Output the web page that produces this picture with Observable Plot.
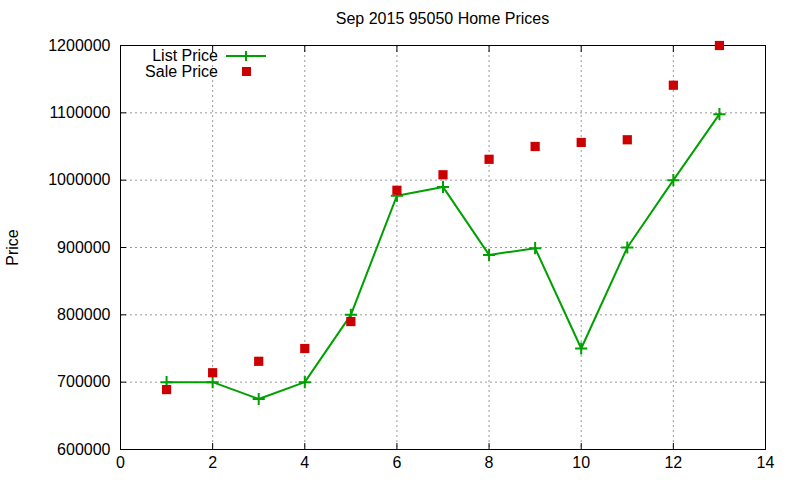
<!DOCTYPE html>
<html>
<head>
<meta charset="utf-8">
<script src="https://cdn.jsdelivr.net/npm/d3@7"></script>
<script src="https://cdn.jsdelivr.net/npm/@observablehq/plot@0.6"></script>
<style>
  html, body { margin: 0; padding: 0; background: #fff; }
  #wrap { position: relative; width: 800px; height: 480px; font-family: "Liberation Sans", Arial, sans-serif; }
  #title { position: absolute; left: 120px; width: 645px; top: 10px; text-align: center; font-size: 16px; color: #000; }
  #legend { position: absolute; left: 120px; top: 45px; }
</style>
</head>
<body>
<div id="wrap">
  <div id="chart"></div>
  <div id="title">Sep 2015 95050 Home Prices</div>
  <svg id="legend" width="160" height="40"></svg>
</div>
<script>
const months = [1, 2, 3, 4, 5, 6, 7, 8, 9, 10, 11, 12, 13];
const listPrice = [700000, 700000, 675000, 700000, 800000, 977000, 990000, 889000, 899000, 750000, 900000, 1000000, 1098000];
const salePrice = [689000, 714000, 731000, 750000, 790000, 985000, 1008000, 1031000, 1050000, 1056000, 1060000, 1141000, 1200000];
const xTicks = [0, 2, 4, 6, 8, 10, 12, 14];
const yTicks = [600000, 700000, 800000, 900000, 1000000, 1100000, 1200000];
const seriesNames = ["List Price", "Sale Price"];

const listData = months.map((m, i) => ({ x: m, y: listPrice[i] }));
const saleData = months.map((m, i) => ({ x: m, y: salePrice[i] }));

const green = "#00a000";
const red = "#cc0000";
const fmt = d => String(d);

const chart = Plot.plot({
  width: 800,
  height: 480,
  marginLeft: 120,
  marginRight: 35,
  marginTop: 45,
  marginBottom: 31,
  style: { fontFamily: "Liberation Sans, Arial, sans-serif", fontSize: "16px", color: "#000", background: "#fff" },
  x: { domain: [0, 14], ticks: xTicks },
  y: { domain: [600000, 1200000], ticks: yTicks },
  marks: [
    Plot.gridX(xTicks.slice(1, -1), { stroke: "#999", strokeOpacity: 1, strokeDasharray: "2,3" }),
    Plot.gridY(yTicks.slice(1, -1), { stroke: "#999", strokeOpacity: 1, strokeDasharray: "2,3" }),
    Plot.axisX(xTicks, { anchor: "bottom", tickSize: 0, tickPadding: 7, tickFormat: fmt, label: null, fontSize: 16 }),
    Plot.axisX(xTicks, { anchor: "bottom", tickSize: -6, tickFormat: () => "", label: null, stroke: "#000" }),
    Plot.axisX(xTicks, { anchor: "top", tickSize: -6, tickFormat: () => "", label: null, stroke: "#000" }),
    Plot.axisY(yTicks, { anchor: "left", tickSize: 0, tickPadding: 10, tickFormat: fmt, label: "Price", labelAnchor: "center", labelArrow: "none", labelOffset: 114, fontSize: 16 }),
    Plot.axisY(yTicks, { anchor: "left", tickSize: -6, tickFormat: () => "", label: null, stroke: "#000" }),
    Plot.axisY(yTicks, { anchor: "right", tickSize: -6, tickFormat: () => "", label: null, stroke: "#000" }),
    Plot.frame({ stroke: "#000", strokeWidth: 1 }),
    Plot.line(listData, { x: "x", y: "y", stroke: green, strokeWidth: 2 }),
    Plot.dot(listData, { x: "x", y: "y", symbol: "plus", stroke: green, strokeWidth: 2, r: 4 }),
    Plot.dot(saleData, { x: "x", y: "y", symbol: "square", fill: red, stroke: "none", r: 5.2 })
  ]
});
document.getElementById("chart").appendChild(chart);

// legend
const lg = d3.select("#legend");
lg.append("text").attr("x", 98).attr("y", 16).attr("text-anchor", "end")
  .attr("font-size", 16).attr("font-family", "Liberation Sans, Arial, sans-serif").text(seriesNames[0]);
lg.append("line").attr("x1", 106).attr("x2", 146).attr("y1", 11).attr("y2", 11)
  .attr("stroke", green).attr("stroke-width", 2);
lg.append("path").attr("d", "M121,11h10M126,6v10").attr("stroke", green).attr("stroke-width", 2);
lg.append("text").attr("x", 98).attr("y", 32).attr("text-anchor", "end")
  .attr("font-size", 16).attr("font-family", "Liberation Sans, Arial, sans-serif").text(seriesNames[1]);
lg.append("rect").attr("x", 122).attr("y", 22).attr("width", 9).attr("height", 9).attr("fill", red);
</script>
</body>
</html>
